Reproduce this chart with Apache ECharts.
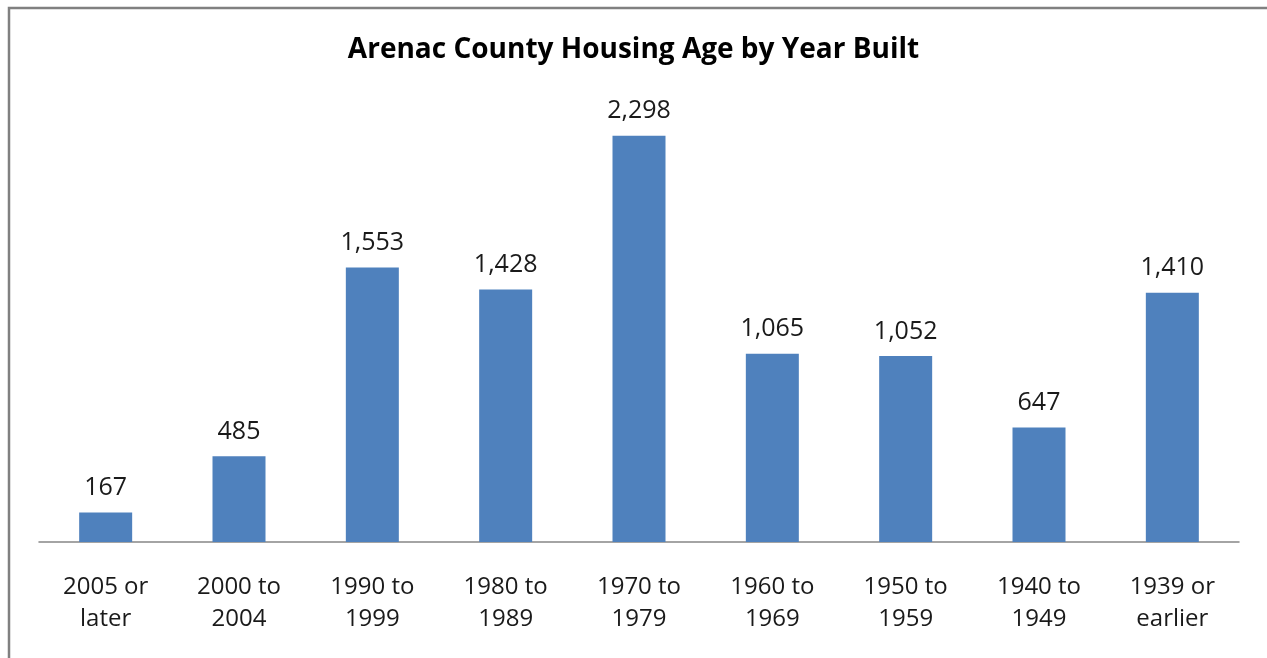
<!DOCTYPE html>
<html>
<head>
<meta charset="utf-8">
<script src="https://cdn.jsdelivr.net/npm/echarts@6/dist/echarts.min.js"></script>
<style>
  html, body { margin: 0; padding: 0; background: #fff; }
  #main { width: 1267px; height: 658px; }
</style>
</head>
<body>
<div id="main"></div>
<script>
// categories and housing unit counts
var yearBuilt = ['2005 or\nlater', '2000 to\n2004', '1990 to\n1999', '1980 to\n1989', '1970 to\n1979',
                 '1960 to\n1969', '1950 to\n1959', '1940 to\n1949', '1939 or\nearlier'];
var housingUnits = [167, 485, 1553, 1428, 2298, 1065, 1052, 647, 1410];

var myChart = echarts.init(document.getElementById('main'));

var option = {
    animation: false,
    backgroundColor: '#fff',
    title: {
        text: 'Arenac County Housing Age by Year Built',
        left: 'center',
        top: 31,
        textStyle: {
            fontFamily: 'Open Sans',
            fontSize: 28,
            fontWeight: 'bold',
            color: '#000'
        }
    },
    // chart border (right and bottom edges fall outside the picture)
    graphic: [{
        type: 'rect',
        shape: { x: 9, y: 8, width: 1300, height: 700 },
        style: { fill: 'none', stroke: '#808080', lineWidth: 2.5 },
        silent: true
    }],
    grid: {
        left: 39,
        right: 28,
        top: 100,
        bottom: 116
    },
    xAxis: {
        type: 'category',
        data: yearBuilt,
        axisTick: { show: false },
        axisLine: { lineStyle: { color: '#868686', width: 1.5 } },
        axisLabel: {
            margin: 29,
            fontFamily: 'Open Sans',
            fontSize: 24,
            lineHeight: 32,
            color: '#1a1a1a',
            interval: 0
        }
    },
    yAxis: {
        type: 'value',
        min: 0,
        max: 2500,
        show: false,
        splitLine: { show: false }
    },
    series: [{
        type: 'bar',
        data: housingUnits,
        barWidth: 53,
        itemStyle: { color: '#4F81BD' },
        label: {
            show: true,
            position: 'top',
            distance: 12,
            fontFamily: 'Open Sans',
            fontSize: 25,
            color: '#1a1a1a',
            formatter: function (p) {
                return p.value.toLocaleString('en-US');
            }
        }
    }]
};

myChart.setOption(option);
</script>
</body>
</html>
